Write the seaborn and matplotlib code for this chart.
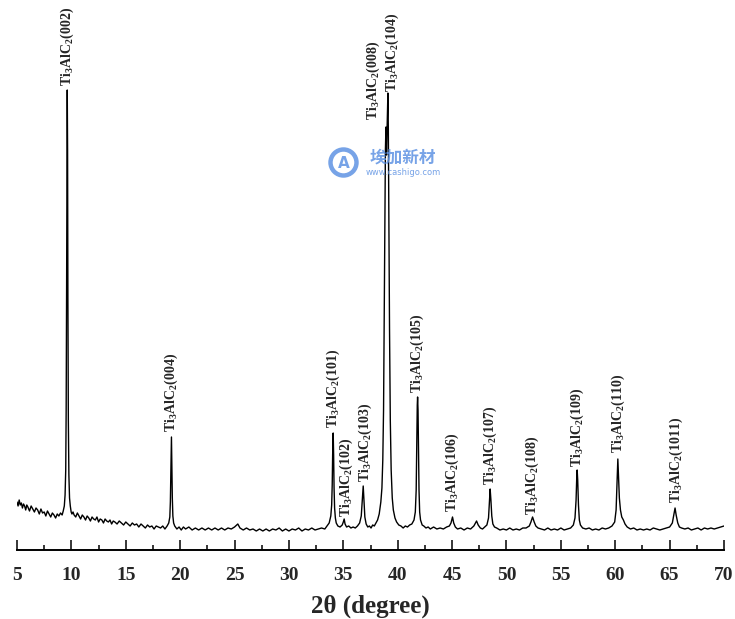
import matplotlib
matplotlib.use("Agg")
import matplotlib.pyplot as plt
from matplotlib.patches import Ellipse
import seaborn as sns
import pandas as pd

# XRD trace (2theta in degree, intensity in a.u.)
two_theta = [
    5.0, 5.1, 5.2, 5.3, 5.4, 5.5, 5.6, 5.7, 5.8, 5.9, 6.0, 6.15, 6.3, 6.45, 6.6, 6.75, 6.9, 7.05,
    7.2, 7.35, 7.5, 7.65, 7.8, 7.95, 8.1, 8.25, 8.4, 8.55, 8.7, 8.85, 9.0, 9.15, 9.25, 9.35,
    9.42, 9.48, 9.52, 9.56, 9.6, 9.62, 9.65, 9.68, 9.72, 9.77, 9.83, 9.9, 9.98,
    10.05, 10.15, 10.25, 10.4, 10.55, 10.7, 10.85, 11.0, 11.15, 11.3, 11.45, 11.6, 11.75, 11.9,
    12.05, 12.2, 12.35, 12.5, 12.65, 12.8, 12.95, 13.1, 13.25, 13.4, 13.55, 13.7, 13.85, 14.0,
    14.2, 14.4, 14.6, 14.8, 15.0, 15.2, 15.4, 15.6, 15.8, 16.0, 16.2, 16.4, 16.6, 16.8, 17.0,
    17.2, 17.4, 17.6, 17.8, 18.0, 18.2, 18.4, 18.6, 18.8, 18.95,
    19.05, 19.1, 19.15, 19.2, 19.24, 19.28, 19.33, 19.4, 19.5,
    19.7, 19.9, 20.1, 20.3, 20.5, 20.8, 21.1, 21.4, 21.7, 22.0, 22.3, 22.6, 22.9, 23.2, 23.5,
    23.8, 24.1, 24.4, 24.7, 25.0, 25.3, 25.5, 25.8, 26.1, 26.4, 26.7, 27.0, 27.3, 27.6, 27.9,
    28.2, 28.5, 28.8, 29.1, 29.4, 29.7, 30.0, 30.3, 30.6, 30.9, 31.2, 31.5, 31.8, 32.1, 32.4,
    32.7, 33.0, 33.3, 33.5, 33.7, 33.85,
    33.93, 33.98, 34.02, 34.07, 34.11, 34.15, 34.2, 34.27, 34.35, 34.5, 34.7, 34.9, 35.0, 35.08,
    35.16, 35.3, 35.5, 35.7, 35.9, 36.1, 36.3, 36.5, 36.65, 36.75, 36.83, 36.9, 36.98, 37.1,
    37.25, 37.4, 37.55, 37.7, 37.85, 38.0, 38.15, 38.3, 38.45, 38.55, 38.63, 38.7, 38.76, 38.82,
    38.87, 38.92, 38.97, 39.02, 39.07, 39.1, 39.14, 39.19, 39.25, 39.32, 39.4, 39.5, 39.6, 39.75,
    39.9, 40.1, 40.3, 40.5, 40.7, 40.9, 41.1, 41.3, 41.5, 41.62, 41.7, 41.76, 41.8, 41.83, 41.87,
    41.91, 41.96, 42.02, 42.1, 42.25, 42.4, 42.6, 42.8, 43.0, 43.3, 43.6, 43.9, 44.2, 44.5,
    44.75, 44.9, 45.04, 45.15, 45.3, 45.5, 45.8, 46.1, 46.4, 46.7, 47.0, 47.25, 47.4, 47.6, 47.8,
    48.0, 48.2, 48.35, 48.43, 48.5, 48.57, 48.65, 48.75, 48.9, 49.1, 49.4, 49.7, 50.0, 50.3,
    50.6, 50.9, 51.2, 51.5, 51.8, 52.1, 52.25, 52.4, 52.55, 52.7, 52.9, 53.2, 53.5, 53.8, 54.1,
    54.4, 54.7, 55.0, 55.3, 55.6, 55.9, 56.15, 56.3, 56.4, 56.46, 56.5, 56.55, 56.62, 56.7, 56.8,
    57.0, 57.3, 57.6, 57.9, 58.2, 58.5, 58.8, 59.1, 59.4, 59.7, 59.95, 60.08, 60.16, 60.24, 60.3,
    60.38, 60.48, 60.6, 60.75, 60.9, 61.1, 61.4, 61.7, 62.0, 62.3, 62.6, 62.9, 63.2, 63.5, 63.8,
    64.1, 64.4, 64.7, 65.0, 65.25, 65.4, 65.5, 65.6, 65.75, 65.9, 66.1, 66.4, 66.7, 67.0, 67.3,
    67.6, 67.9, 68.2, 68.5, 68.8, 69.1, 69.4, 69.7, 70.0,
]
intensity = [
    48, 44, 50, 45, 47, 42, 46, 44, 40, 45, 43, 39, 44, 41, 38, 42, 40, 36,
    41, 37, 38, 34, 39, 36, 33, 37, 35, 32, 36, 34, 37, 35, 39, 44,
    55, 80, 140, 260, 420, 460, 400, 250, 130, 75, 52, 44, 38,
    36, 38, 35, 33, 37, 34, 31, 35, 33, 30, 34, 32, 29, 33,
    31, 30, 33, 28, 31, 30, 27, 31, 29, 28, 30, 26, 29, 28,
    26, 29, 27, 25, 28, 26, 24, 27, 25, 26, 23, 26, 24, 22, 25,
    23, 24, 21, 24, 23, 22, 24, 21, 24, 27,
    33, 48, 80, 113, 85, 52, 34, 27, 24,
    21, 23, 20, 23, 21, 23, 20, 22, 20, 22, 20, 22, 20, 22, 20,
    22, 20, 22, 21, 23, 26, 22, 20, 22, 20, 21, 19, 21, 19, 21,
    19, 21, 20, 22, 19, 21, 19, 21, 20, 22, 19, 21, 20, 22, 20,
    21, 22, 21, 24, 27, 34,
    45, 65, 95, 117, 95, 62, 42, 32, 27, 24, 23, 25, 28, 31,
    26, 23, 24, 22, 23, 22, 24, 27, 34, 50, 64, 50, 33, 26,
    23, 24, 22, 25, 24, 27, 30, 36, 48, 62, 90, 140, 230, 330,
    400, 423, 395, 420, 450, 457, 420, 320, 220, 130, 80, 52, 40, 32,
    28, 25, 24, 22, 24, 23, 25, 26, 30, 38, 60, 110, 145, 153, 140,
    100, 60, 38, 30, 25, 24, 22, 23, 21, 23, 21, 22, 21, 23,
    24, 27, 33, 27, 23, 21, 22, 20, 22, 21, 24, 29, 25, 22, 21,
    23, 25, 32, 48, 61, 50, 34, 26, 23, 22, 20, 21, 20, 22,
    20, 21, 20, 22, 22, 24, 28, 33, 28, 24, 22, 21, 20, 22, 20,
    21, 20, 22, 20, 21, 22, 25, 32, 50, 72, 80, 70, 45, 30, 25,
    22, 21, 22, 20, 21, 20, 22, 21, 22, 24, 28, 40, 65, 91, 75,
    52, 40, 33, 30, 26, 23, 21, 22, 20, 21, 20, 21, 20, 22, 21,
    20, 21, 22, 23, 27, 36, 42, 35, 27, 23, 22, 21, 22, 20, 21,
    22, 20, 22, 21, 22, 21, 22, 23, 24,
]

# peak labels: hkl, label anchor (2theta) and label base height
peak_hkl = ["002", "004", "101", "102", "103", "008", "104", "105",
            "106", "107", "108", "109", "110", "1011"]
label_x = [9.62, 19.2, 34.07, 35.3, 36.98, 37.72, 39.53, 41.83,
           45.04, 48.5, 52.4, 56.5, 60.24, 65.63]
label_y = [464, 118, 122, 33, 68, 430, 458, 157,
           38, 65, 35, 83, 97, 47]

df = pd.DataFrame({"two_theta": two_theta, "intensity": intensity})

sns.set_style("white")
plt.rcParams["font.family"] = ["Liberation Serif", "DejaVu Serif"]
plt.rcParams["mathtext.fontset"] = "custom"
plt.rcParams["mathtext.rm"] = "Liberation Serif:bold"
plt.rcParams["mathtext.it"] = "Liberation Serif:bold"
plt.rcParams["mathtext.bf"] = "Liberation Serif:bold"

fig = plt.figure(figsize=(7.35, 6.19), dpi=100)
ax = fig.add_axes([17 / 735, 69 / 619, 707 / 735, 550 / 619])

sns.lineplot(data=df, x="two_theta", y="intensity", color="black", lw=1.0, sort=False, ax=ax)

for hkl, lx, ly in zip(peak_hkl, label_x, label_y):
    ax.text(lx, ly, "Ti$_3$AlC$_2$(" + hkl + ")", rotation=90, ha="center", va="bottom",
            fontsize=10, fontweight="bold")

ax.set_xlim(5, 70)
ax.set_ylim(0, 550)
ax.set_xticks(range(5, 71, 5))
ax.set_xticks([x + 2.5 for x in range(5, 70, 5)], minor=True)
ax.set_yticks([])
ax.tick_params(axis="x", which="major", direction="in", length=7.5, width=1.3,
               pad=12, labelsize=14, bottom=True)
ax.tick_params(axis="x", which="minor", direction="in", length=3.8, width=1.3, bottom=True)
for lab in ax.get_xticklabels():
    lab.set_fontweight("bold")
ax.set_xlabel("2θ (degree)", fontsize=18, fontweight="bold", labelpad=8)
ax.set_ylabel("")
sns.despine(ax=ax, left=True)
ax.spines["bottom"].set_linewidth(1.4)
ax.spines["bottom"].set_color("black")
ax.patch.set_alpha(0)

# watermark
wm = "#5f93e3"
fig.patches.append(Ellipse((343.5 / 735, 1 - 162.5 / 619), 26 / 735, 26 / 619, fill=False,
                           lw=3.2, color=wm, alpha=0.85, transform=fig.transFigure))
fig.text(343.5 / 735, 1 - 163 / 619, "A", color=wm, fontsize=11, fontweight="bold",
         ha="center", va="center", family=["DejaVu Sans"], alpha=0.85)
fig.text(403 / 735, 1 - 158 / 619, "埃加新材", color=wm, fontsize=12, fontweight="bold",
         ha="center", va="center", family=["Noto Sans CJK SC", "DejaVu Sans"], alpha=0.85)
fig.text(403 / 735, 1 - 172.5 / 619, "www.cashigo.com", color=wm, fontsize=6,
         ha="center", va="center", family=["DejaVu Sans"], alpha=0.85)

fig.savefig("out.png", dpi=100)
